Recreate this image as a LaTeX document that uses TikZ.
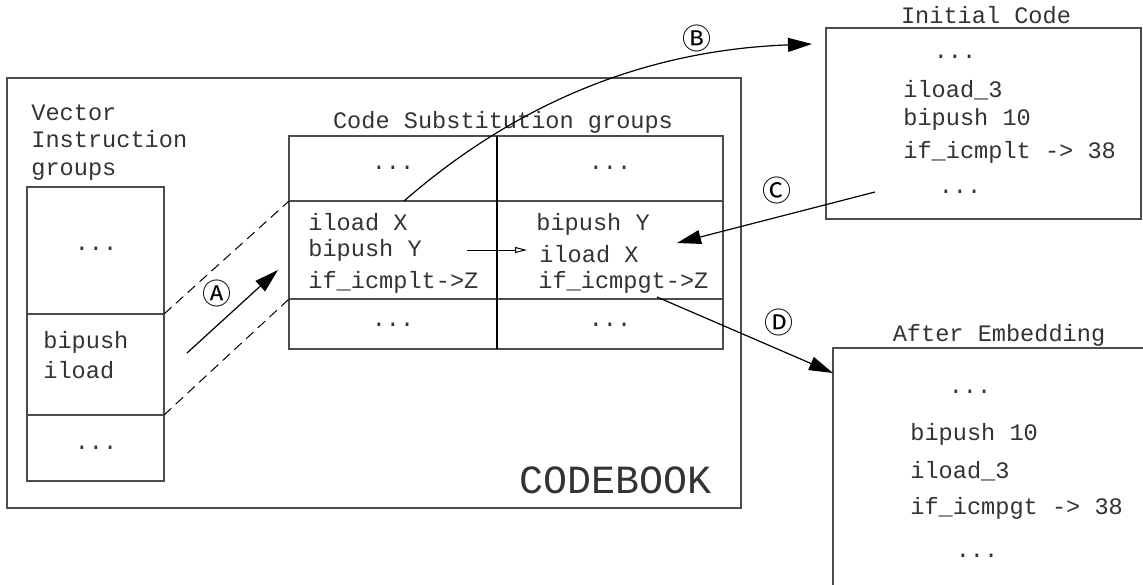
\documentclass[tikz,border=0pt]{standalone}
\usepackage{fontspec}
\setmonofont{Liberation Mono}
\newfontfamily\circfont{Noto Sans CJK SC}
\usetikzlibrary{arrows.meta,positioning}

\begin{document}
\begin{tikzpicture}[x=0.5pt,y=-0.5pt,
box/.style={
% the frames
draw=black!70, line width=0.6pt},
code/.style={
% monospace text lines
inner sep=0pt, anchor=west, text=black!80,
font=\ttfamily\fontsize{11.8}{14}\selectfont},
title/.style={code, anchor=center},
dots/.style={code, anchor=center},
circmark/.style={inner sep=0pt, font=\circfont\fontsize{14.5}{16}\selectfont},
bigarrow/.style={line width=0.6pt, -{Triangle[length=12pt,width=7pt]}},
smallarrow/.style={line width=0.5pt, -{Triangle[open,length=6pt,width=3pt]}}]

\clip (0,0) rectangle (1143,584);

% codebook frame
\draw[box] (7,78) rectangle (741,508);
\node (Codebook) [code, anchor=center, font=\ttfamily\fontsize{20}{24}\selectfont] at (616,480) {CODEBOOK};

% vector instruction groups
\node (VecTitle) [code, align=left, anchor=north west, font=\ttfamily\fontsize{11.8}{13.75}\selectfont] at (31,104) {Vector\\Instruction\\groups};
\draw[box] (27,187) rectangle (164,481);
\draw[box] (27,314) -- (164,314);
\draw[box] (27,415) -- (164,415);
\node (VecTop) [dots] at (96,249) {...};
\node (VecPush) [code] at (43,342) {bipush};
\node (VecLoad) [code] at (43,370) {iload};
\node (VecBot) [dots] at (96,448) {...};

% code substitution groups
\node (SubTitle) [title] at (503,122) {Code Substitution groups};
\draw[box] (289,136) rectangle (723,349);
\draw[box] (289,201) -- (723,201);
\draw[box] (289,299) -- (723,299);
\draw[line width=0.6pt] (497,136) -- (497,349);
\node (SubTopL) [dots] at (393,168) {...};
\node (SubTopR) [dots] at (610,168) {...};
\node (SubL1) [code] at (308,222) {iload X};
\node (SubL2) [code] at (308,250) {bipush Y};
\node (SubL3) [code] at (308,282) {if\_icmplt->Z};
\node (SubR1) [code] at (536,224) {bipush Y};
\node (SubR2) [code] at (539,254) {iload X};
\node (SubR3) [code] at (538,282) {if\_icmpgt->Z};
\node (SubBotL) [dots] at (393,325) {...};
\node (SubBotR) [dots] at (610,325) {...};

% initial code
\node (InitTitle) [title] at (986,15) {Initial Code};
\draw[box] (826,28) rectangle (1141,219);
\node (Init0) [dots] at (955,57) {...};
\node (Init1) [code] at (903,90) {iload\_3};
\node (Init2) [code] at (903,119) {bipush 10};
\node (Init3) [code] at (903,152) {if\_icmplt -> 38};
\node (Init4) [dots] at (960,192) {...};

% after embedding
\node (AfterTitle) [title] at (999,335) {After Embedding};
\draw[box] (833,348) rectangle (1170,620);
\node (After0) [dots] at (970,392) {...};
\node (After1) [code] at (910,434) {bipush 10};
\node (After2) [code] at (910,471) {iload\_3};
\node (After3) [code] at (910,508) {if\_icmpgt -> 38};
\node (After4) [dots] at (977,556) {...};

% connectors
\coordinate (VecDivA) at (164,314);
\coordinate (VecDivB) at (164,415);
\coordinate (SubDivA) at (289,201);
\coordinate (SubDivB) at (289,299);
\coordinate (ATail) at (187,353);
\coordinate (AHead) at (278,270);
\coordinate (BTail) at (404,201);
\coordinate (BHead) at (812,44);
\coordinate (CTail) at (875,192);
\coordinate (CHead) at (677,243);
\coordinate (DTail) at (657,297);
\coordinate (DHead) at (833,373);
\coordinate (SwapTail) at (467,250);
\coordinate (SwapHead) at (527,250);

\draw[line width=0.5pt, dash pattern=on 5pt off 3pt] (VecDivA) -- (SubDivA);
\draw[line width=0.5pt, dash pattern=on 5pt off 3pt] (VecDivB) -- (SubDivB);
\draw[bigarrow] (ATail) -- (AHead);
\draw[bigarrow] (BTail) .. controls (520,100) and (650,50) .. (BHead);
\draw[bigarrow] (CTail) -- (CHead);
\draw[bigarrow] (DTail) -- (DHead);
\draw[smallarrow] (SwapTail) -- (SwapHead);

\node (MarkA) [circmark] at (217,293) {Ⓐ};
\node (MarkB) [circmark] at (697,38) {Ⓑ};
\node (MarkC) [circmark] at (777,190) {Ⓒ};
\node (MarkD) [circmark] at (779,322) {Ⓓ};

\end{tikzpicture}
\end{document}
